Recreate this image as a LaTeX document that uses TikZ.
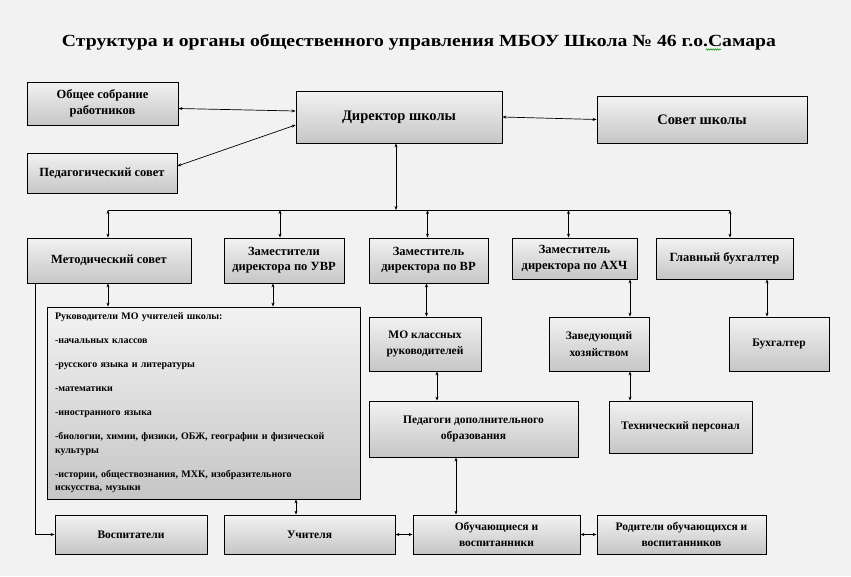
\documentclass[tikz,border=0pt]{standalone}
\usepackage{fontspec}
\setmainfont{Liberation Serif}
\usetikzlibrary{arrows.meta,shadows,decorations.pathmorphing}
\begin{document}
\begin{tikzpicture}[x=1pt,y=-1pt,
  box/.style={draw=black, line width=0.8pt, top color=gray!10, bottom color=gray!45,
    general shadow={shadow xshift=1.2pt, shadow yshift=-1.2pt, fill=black!35},
    align=center, inner sep=2pt, font=\bfseries\fontsize{12.5}{16}\selectfont},
  big/.style={font=\bfseries\fontsize{14.5}{17}\selectfont},
  mid/.style={font=\bfseries\fontsize{11.5}{16.5}\selectfont},
  low/.style={font=\bfseries\fontsize{11.5}{15.5}\selectfont},
  link/.style={line width=0.7pt, draw=black},
  dbl/.style={link, {Stealth[length=4pt,width=3pt]}-{Stealth[length=4pt,width=3pt]}},
  one/.style={link, -{Stealth[length=4pt,width=3pt]}}]
\fill[black!5] (0,0) rectangle (851,576);
\useasboundingbox (0,0) rectangle (851,576);

\node[font=\bfseries\fontsize{17}{20}\selectfont, anchor=base, inner sep=0pt] (title) at (419,46)
  {\resizebox{714pt}{\height}{Структура и органы общественного управления МБОУ Школа № 46 г.о.Самара}};
\draw[green!55!black, line width=0.5pt, decorate, decoration={zigzag, amplitude=0.8pt, segment length=2.2pt}]
  (706,49.5) -- (721,49.5);

\node[box, minimum width=151, minimum height=43] (obsh) at (102.5,103.5) {Общее собрание\\работников};
\node[box, minimum width=150, minimum height=40] (ped) at (102,173) {Педагогический совет};
\node[box, big, minimum width=206, minimum height=52] (dir) at (399,117) {Директор школы};
\node[box, big, minimum width=210, minimum height=47] (sovet) at (702,119.5) {Совет школы};

\node[box, font=\bfseries\fontsize{12.5}{15}\selectfont, minimum width=164, minimum height=45] (metod) at (109,260.5) {Методический совет};
\node[box, font=\bfseries\fontsize{12.5}{15}\selectfont, minimum width=120, minimum height=45] (uvr) at (284,260.5) {Заместители\\директора по УВР};
\node[box, font=\bfseries\fontsize{12.5}{15}\selectfont, minimum width=119, minimum height=45] (vr) at (428.5,260.5) {Заместитель\\директора по ВР};
\node[box, font=\bfseries\fontsize{12.5}{15.5}\selectfont, minimum width=125, minimum height=41] (ahch) at (574.5,258.5) {Заместитель\\директора по АХЧ};
\node[box, font=\bfseries\fontsize{12.5}{15}\selectfont, minimum width=137, minimum height=41] (glbuh) at (724.5,258.5) {Главный бухгалтер};

\node[box, minimum width=313, minimum height=192, text width=297, align=left,
  font=\bfseries\fontsize{10}{13.5}\selectfont] (ruk) at (203.5,403)
  {Руководители МО учителей школы:\\[10.5pt]
   -начальных классов\\[10.5pt]
   -русского языка и литературы\\[10.5pt]
   -математики\\[10.5pt]
   -иностранного языка\\[10.5pt]
   -биологии, химии, физики, ОБЖ, географии и физической\\
   культуры\\[10.5pt]
   -истории, обществознания, МХК, изобразительного\\
   искусства, музыки};

\node[box, mid, minimum width=112, minimum height=54] (mokl) at (425,344) {МО классных\\руководителей};
\node[box, mid, minimum width=100, minimum height=54] (zav) at (599,344) {Заведующий\\хозяйством};
\node[box, mid, minimum width=100, minimum height=54] (buh) at (779,344) {Бухгалтер};
\node[box, mid, minimum width=209, minimum height=56] (pdo) at (473.5,429) {Педагоги дополнительного\\образования};
\node[box, mid, minimum width=143, minimum height=52] (tech) at (680.5,427) {Технический персонал};

\node[box, low, minimum width=152, minimum height=39] (vosp) at (131,534.5) {Воспитатели};
\node[box, low, minimum width=171, minimum height=39] (uch) at (309.5,534.5) {Учителя};
\node[box, low, minimum width=167, minimum height=39] (obuch) at (496.5,534.5) {Обучающиеся и\\воспитанники};
\node[box, low, minimum width=169, minimum height=39] (rod) at (681.5,534.5) {Родители обучающихся и\\воспитанников};

\coordinate (busL) at (108,210);
\coordinate (busR) at (730,210);

\draw[dbl] ([yshift=-5pt]obsh.east) -- ([yshift=6pt]dir.west);
\draw[dbl] ([yshift=7pt]ped.east) -- ([yshift=-8pt]dir.west);
\draw[dbl] (dir.east) -- (sovet.west);
\draw[link] (busL) -- (busR);
\draw[dbl] ([xshift=-3pt]dir.south) -- ([xshift=-3pt]dir.south |- busL);
\draw[dbl] ([xshift=-1pt]metod.north |- busL) -- ([xshift=-1pt]metod.north);
\draw[dbl] ([xshift=-4pt]uvr.north |- busL) -- ([xshift=-4pt]uvr.north);
\draw[dbl] ([xshift=-1pt]vr.north |- busL) -- ([xshift=-1pt]vr.north);
\draw[dbl] ([xshift=-6pt]ahch.north |- busL) -- ([xshift=-6pt]ahch.north);
\draw[dbl] ([xshift=5.5pt]glbuh.north |- busL) -- ([xshift=5.5pt]glbuh.north);

\draw[dbl] ([xshift=-1pt]metod.south) -- ([xshift=-1pt]metod.south |- ruk.north);
\draw[dbl] ([xshift=-11pt]uvr.south) -- ([xshift=-11pt]uvr.south |- ruk.north);
\draw[one] ([xshift=9pt]metod.south west) |- (vosp.west);
\draw[dbl] ([xshift=-13.5pt]uch.north) -- ([xshift=-13.5pt]uch.north |- ruk.south);

\draw[dbl] ([xshift=-2pt]vr.south) -- ([xshift=-2pt]vr.south |- mokl.north);
\draw[dbl] ([xshift=12pt]mokl.south) -- ([xshift=12pt]mokl.south |- pdo.north);
\draw[dbl] ([xshift=31pt]zav.north |- ahch.south) -- ([xshift=31pt]zav.north);
\draw[dbl] ([xshift=31pt]zav.south) -- ([xshift=31pt]zav.south |- tech.north);
\draw[dbl] ([xshift=42.5pt]glbuh.south) -- ([xshift=42.5pt]glbuh.south |- buh.north);
\draw[dbl] ([xshift=-17.5pt]pdo.south) -- ([xshift=-17.5pt]pdo.south |- obuch.north);

\draw[dbl] (uch.east) -- (obuch.west);
\draw[dbl] (obuch.east) -- (rod.west);
\end{tikzpicture}
\end{document}
